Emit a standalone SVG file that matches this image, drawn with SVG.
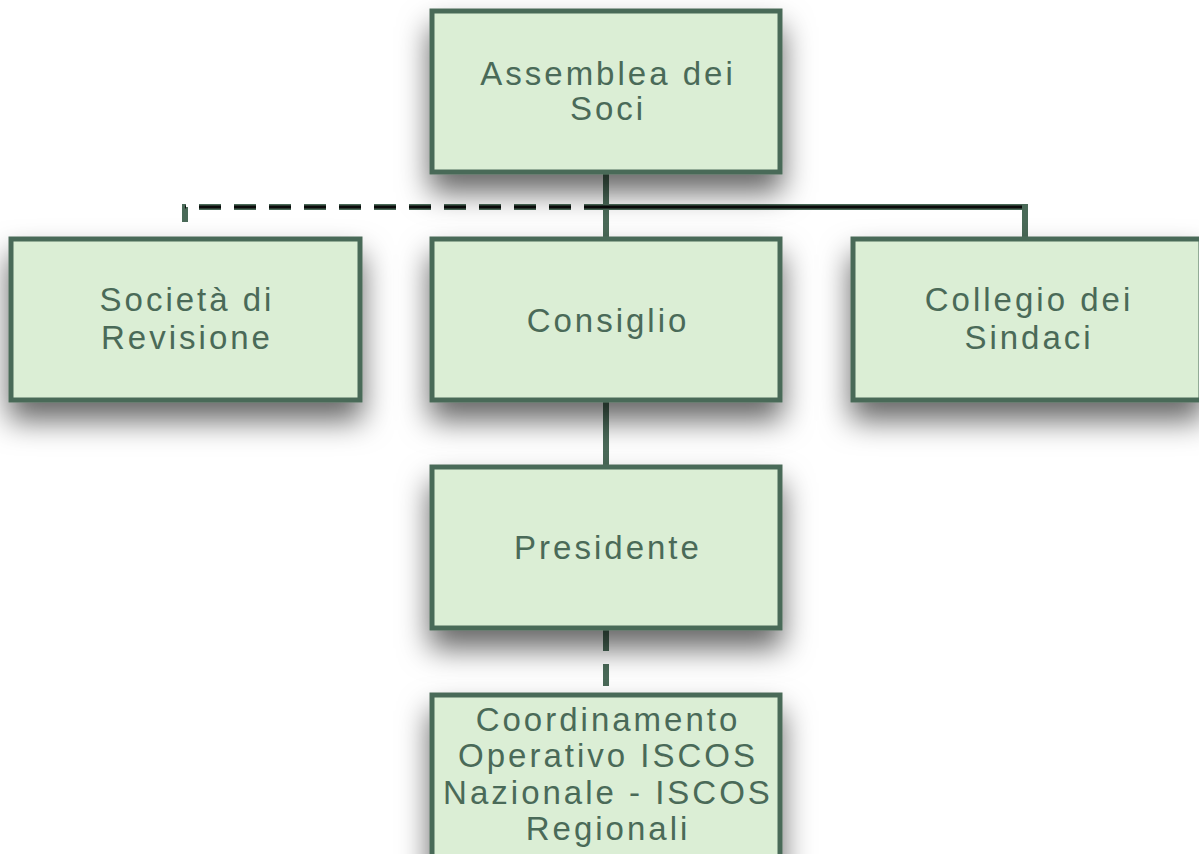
<svg xmlns="http://www.w3.org/2000/svg" width="1199" height="854" viewBox="0 0 1199 854">
<defs>
<filter id="sh" x="-25%" y="-25%" width="150%" height="190%">
<feDropShadow dx="0" dy="18" stdDeviation="15" flood-color="#000" flood-opacity="0.6"/>
</filter>
</defs>
<style>
.box{fill:#dbeed5;stroke:#4a6a58;stroke-width:5;filter:url(#sh)}
.t{font-family:"Liberation Sans",Arial,sans-serif;font-size:33px;fill:#4a6a58;text-anchor:middle;letter-spacing:3px}
.g{stroke:#4a6a58;stroke-width:6;fill:none}
.k{stroke:#0a0a0a;stroke-width:3;fill:none}
</style>
<rect width="1199" height="854" fill="#fff"/>
<g id="connectors">
<path class="g" d="M606,173 V238"/>
<path class="g" d="M606,207 H1025 V238"/>
<path class="k" d="M606,207 H1022"/>
<path class="g" d="M606,207 H185 V222" stroke-dasharray="22,13"/>
<path class="k" d="M606,207 H185" stroke-dasharray="22,13"/>
<path class="g" d="M606,401 V466"/>
<path class="g" d="M606,629 V694" stroke-dasharray="22,13"/>
</g>
<g id="assemblea">
<rect class="box" x="432" y="11" width="348" height="161"/>
<text class="t" x="608" y="85">Assemblea dei</text>
<text class="t" x="608" y="120">Soci</text>
</g>
<g id="societa">
<rect class="box" x="11" y="239" width="349" height="161"/>
<text class="t" x="187" y="311">Società di</text>
<text class="t" x="187" y="349">Revisione</text>
</g>
<g id="consiglio">
<rect class="box" x="432" y="239" width="348" height="161"/>
<text class="t" x="608" y="332">Consiglio</text>
</g>
<g id="collegio">
<rect class="box" x="853" y="239" width="348" height="161"/>
<text class="t" x="1029" y="311">Collegio dei</text>
<text class="t" x="1029" y="349">Sindaci</text>
</g>
<g id="presidente">
<rect class="box" x="432" y="467" width="348" height="161"/>
<text class="t" x="608" y="559">Presidente</text>
</g>
<g id="coordinamento">
<rect class="box" x="432" y="695" width="348" height="180"/>
<text class="t" x="608" y="731">Coordinamento</text>
<text class="t" x="608" y="767">Operativo ISCOS</text>
<text class="t" x="608" y="804">Nazionale - ISCOS</text>
<text class="t" x="608" y="840">Regionali</text>
</g>
</svg>
